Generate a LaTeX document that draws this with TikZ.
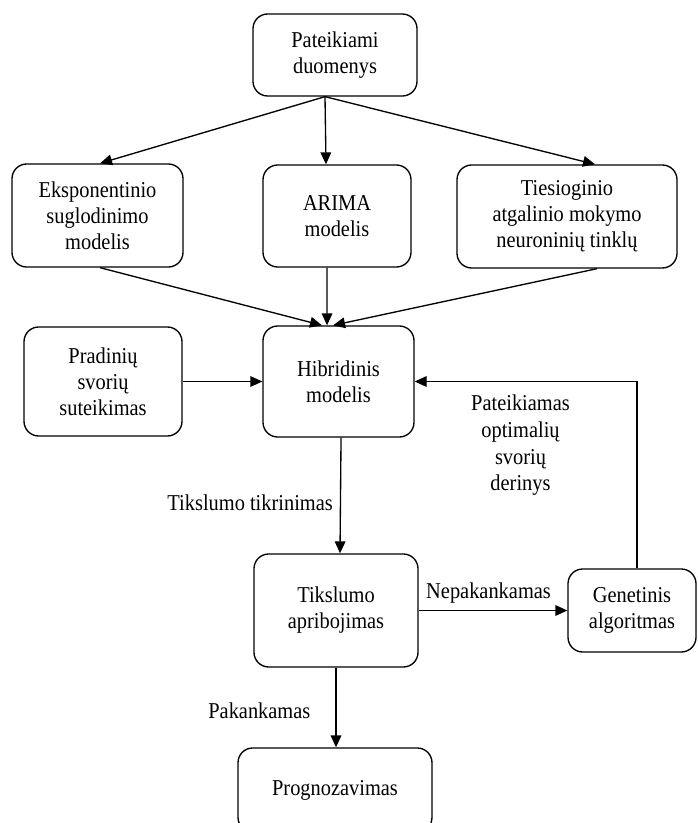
\documentclass[tikz,border=0pt]{standalone}
\usepackage{fontspec}
\setmainfont{Liberation Serif}[FakeStretch=0.9]
\usetikzlibrary{arrows.meta}
\begin{document}
\begin{tikzpicture}[x=0.75pt,y=-0.75pt,
  box/.style={draw, line width=1pt, rounded corners=11pt, inner sep=0pt, align=center, font=\fontsize{17}{19.5}\selectfont},
  lbl/.style={inner sep=0pt, align=center, font=\fontsize{17}{20}\selectfont},
  arr/.style={line width=1pt, -{Triangle[length=9pt,width=8pt]}}]
\clip (0,0) rectangle (697,823);
\node[box, minimum width=123pt, minimum height=61.5pt] (top) at (335,55) {Pateikiami\\duomenys};
\node[box, minimum width=128.25pt, minimum height=77.25pt] (eks) at (97.5,215.5) {Eksponentinio\\suglodinimo\\modelis};
\node[box, minimum width=111pt, minimum height=76.5pt] (arima) at (337,216) {ARIMA\\modelis};
\node[box, minimum width=165pt, minimum height=77.25pt] (ties) at (567,216.5) {Tiesioginio\\atgalinio mokymo\\neuroninių tinklų};
\node[box, minimum width=118.5pt, minimum height=81.75pt] (prad) at (103,381.5) {Pradinių\\svorių\\suteikimas};
\node[box, minimum width=113.25pt, minimum height=83.25pt] (hib) at (338.5,381.5) {Hibridinis\\modelis};
\node[box, minimum width=123pt, minimum height=84.75pt] (tik) at (336,610.5) {Tikslumo\\apribojimas};
\node[box, minimum width=96pt, minimum height=62.25pt] (gen) at (632,610.5) {Genetinis\\algoritmas};
\node[box, minimum width=145.5pt, minimum height=63pt] (prog) at (335,790) {Prognozavimas};

\draw[arr] ([xshift=-7.5pt]top.south) -- ([xshift=1.9pt]eks.north);
\draw[arr] ([xshift=-7.5pt]top.south) -- ([xshift=-8.25pt]arima.north);
\draw[arr] ([xshift=-7.5pt]top.south) -- ([xshift=21pt]ties.north);

\draw[arr] ([xshift=1.9pt]eks.south) -- ([xshift=-12.4pt]hib.north);
\draw[arr] ([xshift=-7.5pt]arima.south) -- ([xshift=-8.6pt]hib.north);
\draw[arr] ([xshift=22.5pt]ties.south) -- ([xshift=-4.1pt]hib.north);

\draw[arr] (prad.east) -- (hib.west);

\draw[arr] ([xshift=1.9pt]hib.south) -- node[lbl, pos=0.564, left=5.25pt] {Tikslumo tikrinimas} ([xshift=3pt]tik.north);
\draw[arr] (tik.east) -- node[lbl, pos=0.47, yshift=12.75pt] {Nepakankamas} (gen.west);
\draw[arr] ([xshift=3.75pt]gen.north) |- node[lbl, pos=0.762, yshift=-48pt] {Pateikiamas\\optimalių\\svorių\\derinys} (hib.east);
\draw[arr] (tik.south) -- node[lbl, pos=0.54, left=18.75pt] {Pakankamas} ([xshift=0.75pt]prog.north);
\end{tikzpicture}
\end{document}
